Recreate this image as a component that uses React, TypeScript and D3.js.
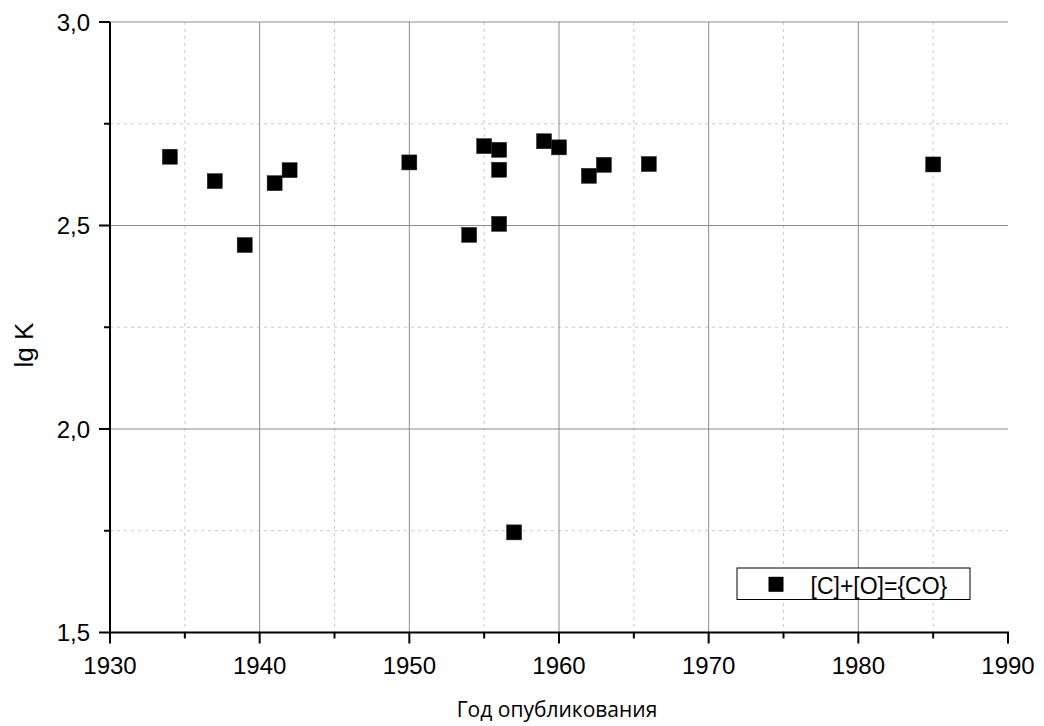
import React from "react";
import * as d3 from "d3";

// Publication year of each measurement and its lg K value
const years = [1934, 1937, 1939, 1941, 1942, 1950, 1954, 1955, 1956, 1956, 1956, 1957, 1959, 1960, 1962, 1963, 1966, 1985];
const lgK = [2.669, 2.609, 2.452, 2.604, 2.636, 2.655, 2.477, 2.695, 2.686, 2.637, 2.504, 1.746, 2.707, 2.692, 2.622, 2.649, 2.651, 2.65];

const xMajorTicks = [1930, 1940, 1950, 1960, 1970, 1980, 1990];
const xMinorTicks = [1935, 1945, 1955, 1965, 1975, 1985];
const yMajorTicks = [1.5, 2.0, 2.5, 3.0];
const yMinorTicks = [1.75, 2.25, 2.75];

const seriesName = "[C]+[O]={CO}";
const xTitle = "Год опубликования";
const yTitle = "lg K";

const W = 1044;
const H = 726;
const left = 110;
const right = 1008;
const top = 22;
const bottom = 632.5;

export default function App() {
  const x = d3.scaleLinear().domain([1930, 1990]).range([left, right]);
  const y = d3.scaleLinear().domain([1.5, 3.0]).range([bottom, top]);
  const fmt = (v: number) => v.toFixed(1).replace(".", ",");
  const ms = 15;
  const font = "Arial, 'Liberation Sans', sans-serif";

  return (
    <svg width={W} height={H} style={{ position: "absolute", left: 0, top: 0, background: "#fff" }}>
      {/* minor grid */}
      {xMinorTicks.map((t) => (
        <line key={"xm" + t} x1={x(t)} x2={x(t)} y1={top} y2={bottom} stroke="#c8c8c8" strokeWidth={1} strokeDasharray="3,4" />
      ))}
      {yMinorTicks.map((t) => (
        <line key={"ym" + t} x1={left} x2={right} y1={y(t)} y2={y(t)} stroke="#c8c8c8" strokeWidth={1} strokeDasharray="3,4" />
      ))}
      {/* major grid */}
      {xMajorTicks.slice(1, -1).map((t) => (
        <line key={"xg" + t} x1={x(t)} x2={x(t)} y1={top} y2={bottom} stroke="#8c8c8c" strokeWidth={1} />
      ))}
      {yMajorTicks.slice(1).map((t) => (
        <line key={"yg" + t} x1={left} x2={right} y1={y(t)} y2={y(t)} stroke="#8c8c8c" strokeWidth={1} />
      ))}

      {/* axes */}
      <line x1={left} x2={left} y1={top} y2={bottom + 1} stroke="#000" strokeWidth={2} />
      <line x1={left - 1} x2={right + 1} y1={bottom} y2={bottom} stroke="#000" strokeWidth={2} />
      {xMajorTicks.map((t) => (
        <g key={"xt" + t}>
          <line x1={x(t)} x2={x(t)} y1={bottom} y2={bottom + 11} stroke="#000" strokeWidth={2} />
          <text x={x(t)} y={bottom + 41} textAnchor="middle" fontFamily={font} fontSize={24} fill="#000">{t}</text>
        </g>
      ))}
      {xMinorTicks.map((t) => (
        <line key={"xmt" + t} x1={x(t)} x2={x(t)} y1={bottom} y2={bottom + 6} stroke="#000" strokeWidth={2} />
      ))}
      {yMajorTicks.map((t) => (
        <g key={"yt" + t}>
          <line x1={left - 11} x2={left} y1={y(t)} y2={y(t)} stroke="#000" strokeWidth={2} />
          <text x={left - 20} y={y(t) + 8.5} textAnchor="end" fontFamily={font} fontSize={24} fill="#000">{fmt(t)}</text>
        </g>
      ))}
      {yMinorTicks.map((t) => (
        <line key={"ymt" + t} x1={left - 6} x2={left} y1={y(t)} y2={y(t)} stroke="#000" strokeWidth={2} />
      ))}

      {/* titles */}
      <text x={557} y={717} textAnchor="middle" fontFamily="'Open Sans', 'Noto Sans', sans-serif" fontSize={21} fill="#000">{xTitle}</text>
      <text transform={`translate(32.5, 345) rotate(-90)`} textAnchor="middle" fontFamily={font} fontSize={26} fill="#000">{yTitle}</text>

      {/* points */}
      {years.map((yr, i) => (
        <rect key={"p" + i} x={x(yr) - ms / 2} y={y(lgK[i]) - ms / 2} width={ms} height={ms} fill="#000" stroke="#222" strokeWidth={0.5} />
      ))}

      {/* legend */}
      <rect x={737} y={568} width={233} height={31.5} fill="#fff" stroke="#000" strokeWidth={1} />
      <rect x={776 - 7.5} y={584.3 - 7.5} width={ms} height={ms} fill="#000" />
      <text x={810.5} y={594} fontFamily={font} fontSize={23} fill="#000">{seriesName}</text>
    </svg>
  );
}
